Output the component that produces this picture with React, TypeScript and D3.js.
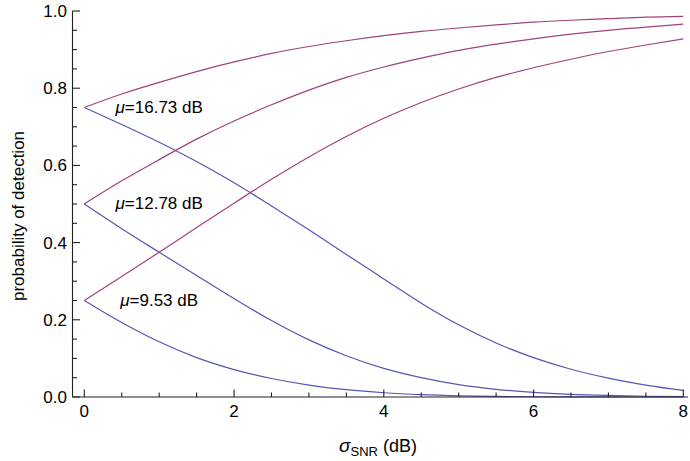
import React from "react";
import * as d3 from "d3";

// σ_SNR sample positions (dB)
const sigma = [0, 0.5, 1, 1.5, 2, 2.5, 3, 3.5, 4, 4.5, 5, 5.5, 6, 6.5, 7, 7.5, 8];

// Rising branches (magenta) per mean SNR
const upHigh = [0.75, 0.785, 0.815, 0.843, 0.868, 0.89, 0.908, 0.923, 0.936, 0.947, 0.956, 0.964, 0.971, 0.976, 0.98, 0.984, 0.986];
const upMid = [0.5, 0.56, 0.615, 0.668, 0.715, 0.757, 0.795, 0.828, 0.855, 0.878, 0.898, 0.914, 0.928, 0.94, 0.95, 0.958, 0.966];
const upLow = [0.25, 0.312, 0.375, 0.439, 0.502, 0.564, 0.622, 0.675, 0.722, 0.763, 0.798, 0.828, 0.853, 0.875, 0.895, 0.912, 0.928];

// Falling branches (blue) per mean SNR
const downHigh = [0.75, 0.706, 0.66, 0.61, 0.555, 0.495, 0.433, 0.369, 0.306, 0.243, 0.187, 0.14, 0.102, 0.072, 0.049, 0.031, 0.017];
const downMid = [0.5, 0.436, 0.375, 0.315, 0.255, 0.198, 0.148, 0.107, 0.074, 0.05, 0.032, 0.02, 0.012, 0.007, 0.004, 0.002, 0.001];
const downLow = [0.25, 0.193, 0.143, 0.102, 0.071, 0.048, 0.031, 0.019, 0.011, 0.006, 0.003, 0.0015, 0.0007, 0.0003, 0.0001, 0, 0];

const muLabels = ["16.73", "12.78", "9.53"];
const muStart = [0.75, 0.5, 0.25];

const xTicks = [0, 2, 4, 6, 8];
const yTicks = [0, 0.2, 0.4, 0.6, 0.8, 1.0];

const W = 690;
const H = 461;
const FONT = "'Liberation Sans', Arial, Helvetica, sans-serif";
const BLUE = "#5656b6";
const MAGENTA = "#a0437a";

export default function App() {
  const x = d3.scaleLinear().domain([0, 8]).range([84.3, 683.3]);
  const y = d3.scaleLinear().domain([0, 1]).range([397, 11]);

  const line = d3
    .line<number>()
    .x((_, i) => x(sigma[i]))
    .y((d) => y(d))
    .curve(d3.curveMonotoneX);

  const rising = [upHigh, upMid, upLow];
  const falling = [downHigh, downMid, downLow];

  const xMinor = d3.range(0, 8.001, 0.5).filter((v) => Math.abs(v % 2) > 1e-6);
  const yMinor = d3.range(0, 1.0001, 0.05).filter((v) => Math.abs(Math.round(v * 100) % 20) > 1e-6);

  const axisX = 72.5;
  const axisY = 397;

  return (
    <svg
      width={W}
      height={H}
      style={{ position: "absolute", left: 0, top: 0, display: "block", background: "#fff" }}
      fontFamily={FONT}
    >
      {/* curves */}
      {falling.map((d, i) => (
        <path key={"f" + i} d={line(d) || ""} fill="none" stroke={BLUE} strokeWidth={1.2} />
      ))}
      {rising.map((d, i) => (
        <path key={"r" + i} d={line(d) || ""} fill="none" stroke={MAGENTA} strokeWidth={1.2} />
      ))}

      {/* curve labels */}
      {muLabels.map((m, i) => (
        <text
          key={m}
          x={x(1)}
          y={y(muStart[i]) + 5}
          textAnchor="middle"
          fontSize={17}
          fill="#000"
        >
          <tspan fontStyle="italic">μ</tspan>={m} dB
        </text>
      ))}

      {/* axes */}
      <g stroke="#222" strokeWidth={1.1} fill="none">
        <line x1={axisX} x2={axisX} y1={y(1)} y2={axisY} />
        <line x1={axisX} x2={688} y1={axisY} y2={axisY} />
        {yTicks.map((t) => (
          <line key={"ym" + t} x1={axisX} x2={axisX + 7.5} y1={y(t)} y2={y(t)} />
        ))}
        {yMinor.map((t) => (
          <line key={"yn" + t} x1={axisX} x2={axisX + 4.5} y1={y(t)} y2={y(t)} />
        ))}
        {xTicks.map((t) => (
          <line key={"xm" + t} x1={x(t)} x2={x(t)} y1={axisY} y2={axisY - 7.5} />
        ))}
        {xMinor.map((t) => (
          <line key={"xn" + t} x1={x(t)} x2={x(t)} y1={axisY} y2={axisY - 4.5} />
        ))}
      </g>

      {/* tick labels */}
      {yTicks.map((t) => (
        <text key={"yl" + t} x={67} y={y(t) + 6} textAnchor="end" fontSize={17} fill="#000">
          {t.toFixed(1)}
        </text>
      ))}
      {xTicks.map((t) => (
        <text key={"xl" + t} x={x(t)} y={417} textAnchor="middle" fontSize={17} fill="#000">
          {t}
        </text>
      ))}

      {/* axis titles */}
      <text x={378} y={452} textAnchor="middle" fontSize={18} fill="#000">
        <tspan fontStyle="italic" fontSize={19}>σ</tspan>
        <tspan fontSize={13} dy={4}>SNR</tspan>
        <tspan dy={-4}> (dB)</tspan>
      </text>
      <text
        transform={`translate(24,${(y(1) + axisY) / 2 + 12}) rotate(-90)`}
        textAnchor="middle"
        fontSize={17}
        fill="#000"
      >
        probability of detection
      </text>
    </svg>
  );
}
